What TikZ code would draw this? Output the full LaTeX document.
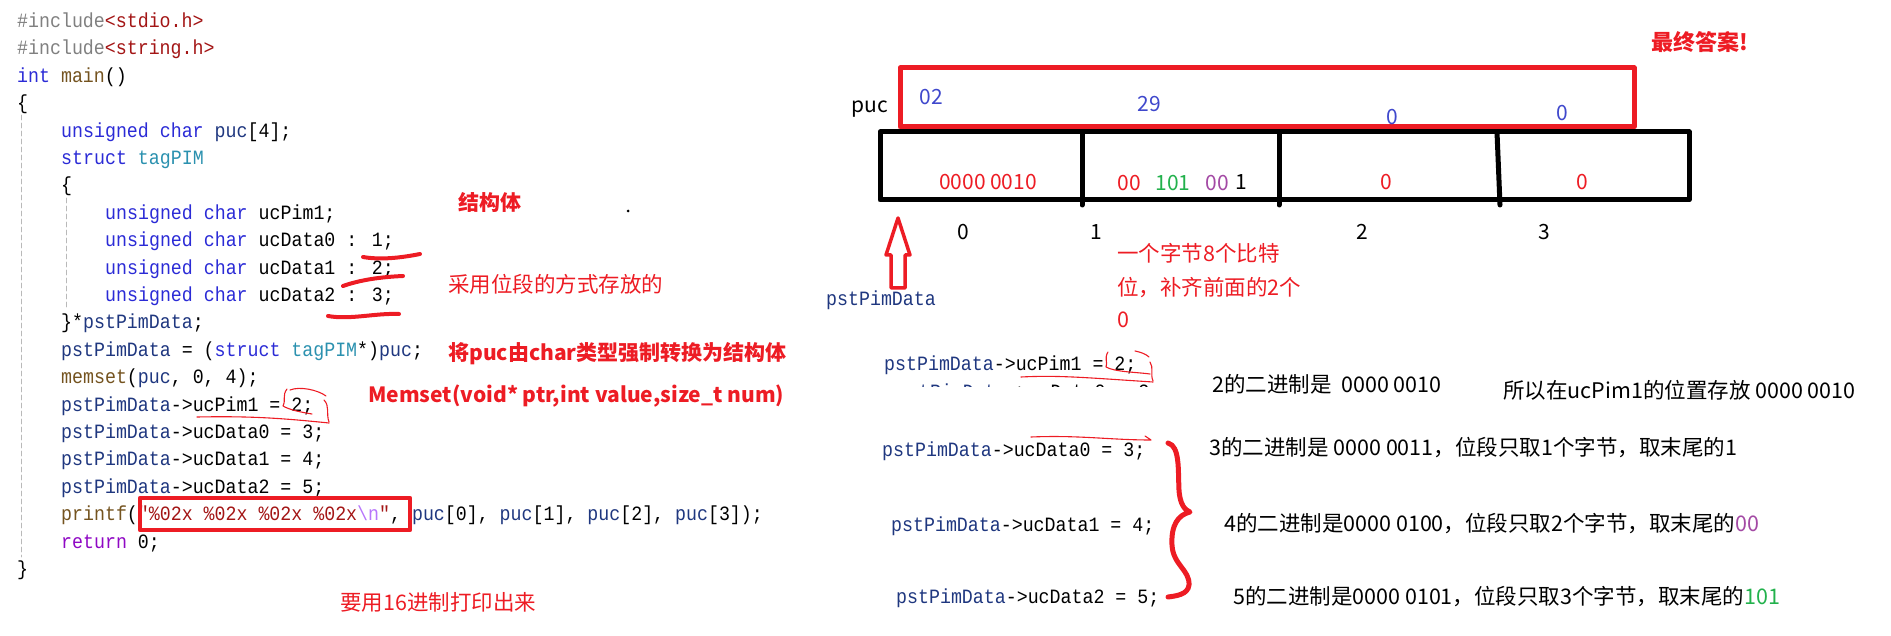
\documentclass[tikz,border=0pt]{standalone}
\usepackage{fontspec}
\usepackage{tikz}
\usetikzlibrary{calc}
\newfontfamily\cjk{Noto Sans CJK SC}
\newfontfamily\codefont{Liberation Mono}[FakeStretch=0.9]
\definecolor{pntred}{HTML}{ED1C24}
\definecolor{pntblue}{HTML}{3F48CC}
\definecolor{pntgreen}{HTML}{22B14C}
\definecolor{pntpurple}{HTML}{A349A4}
\definecolor{vskw}{HTML}{2B2BD6}
\definecolor{vsvar}{HTML}{1F377F}
\definecolor{vstype}{HTML}{2B91AF}
\definecolor{vsfn}{HTML}{74531F}
\definecolor{vsstr}{HTML}{A31515}
\definecolor{vsesc}{HTML}{B776FB}
\definecolor{vsctl}{HTML}{8F08C4}
\definecolor{vspre}{HTML}{808080}
\newcommand{\cKw}[1]{\textcolor{vskw}{#1}}
\newcommand{\cVar}[1]{\textcolor{vsvar}{#1}}
\newcommand{\cType}[1]{\textcolor{vstype}{#1}}
\newcommand{\cFun}[1]{\textcolor{vsfn}{#1}}
\newcommand{\cStr}[1]{\textcolor{vsstr}{#1}}

\begin{document}
\begin{tikzpicture}[x=1pt, y=-1pt, line cap=round, line join=round,
  codeln/.style={anchor=west, inner sep=0pt,
    font=\codefont\fontsize{20.3}{24}\selectfont, text height=14pt, text depth=3pt},
  notetxt/.style={anchor=west, inner sep=0pt,
    font=\cjk\fontsize{21.5}{25}\selectfont, text height=17pt, text depth=2pt},
  rednote/.style={notetxt, text=pntred},
  boldnote/.style={notetxt, text=pntred, font=\cjk\bfseries\fontsize{21}{25}\selectfont},
  numtxt/.style={inner sep=0pt, font=\cjk\fontsize{21}{25}\selectfont,
    text height=15pt, text depth=0pt},
  penline/.style={pntred, line width=4pt},
  scribble/.style={pntred, line width=1.1pt}]
  \path[use as bounding box] (0,0) rectangle (1891,636);

  % editor: indent guides
  \draw[vspre!55, line width=0.8pt, dash pattern=on 5pt off 3pt] (21,115) -- (21,557);
  \draw[vspre!55, line width=0.8pt, dash pattern=on 5pt off 3pt] (66,198) -- (66,308);

  % editor: code, row r at y = 22 + 27.4 r, column c at x = 17 + 11 c
  \node[codeln] (c0) at (17,22) {\textcolor{vspre}{\#include}\cStr{<stdio.h>}};
  \node[codeln] (c1) at (17,49.4) {\textcolor{vspre}{\#include}\cStr{<string.h>}};
  \node[codeln] (c2) at (17,76.8) {\cKw{int} \cFun{main}()};
  \node[codeln] (c3) at (17,104.2) {\{};
  \node[codeln] (c4) at (61,131.6) {\cKw{unsigned char} \cVar{puc}[4];};
  \node[codeln] (c5) at (61,159) {\cKw{struct} \cType{tagPIM}};
  \node[codeln] (c6) at (61,186.4) {\{};
  \node[codeln] (c7) at (105,213.8) {\cKw{unsigned char} ucPim1;};
  \node[codeln] (c8) at (105,241.2) {\cKw{unsigned char} ucData0 : 1;};
  \node[codeln] (c9) at (105,268.6) {\cKw{unsigned char} ucData1 : 2;};
  \node[codeln] (c10) at (105,296) {\cKw{unsigned char} ucData2 : 3;};
  \node[codeln] (c11) at (61,323.4) {\}*\cVar{pstPimData};};
  \node[codeln] (c12) at (61,350.8)
    {\cVar{pstPimData} = (\cKw{struct} \cType{tagPIM}*)\cVar{puc};};
  \node[codeln] (c13) at (61,378.2) {\cFun{memset}(\cVar{puc}, 0, 4);};
  \node[codeln] (c14) at (61,405.6) {\cVar{pstPimData}->ucPim1 = 2;};
  \node[codeln] (c15) at (61,433) {\cVar{pstPimData}->ucData0 = 3;};
  \node[codeln] (c16) at (61,460.4) {\cVar{pstPimData}->ucData1 = 4;};
  \node[codeln] (c17) at (61,487.8) {\cVar{pstPimData}->ucData2 = 5;};
  \node[codeln] (c18) at (61,515.2)
    {\cFun{printf}(\cStr{"\%02x \%02x \%02x \%02x}\textcolor{vsesc}{\textbackslash n}\cStr{"}, \cVar{puc}[0], \cVar{puc}[1], \cVar{puc}[2], \cVar{puc}[3]);};
  \node[codeln] (c19) at (61,542.6) {\textcolor{vsctl}{return} 0;};
  \node[codeln] (c20) at (17,570) {\}};

  % hand marks on the code
  \draw[penline] (363,257) .. controls (380,260) and (400,258) .. (420,254);
  \draw[penline] (343,286) .. controls (360,280) and (380,277) .. (403,276);
  \draw[penline] (328,316) .. controls (350,320) and (375,313) .. (399,314);
  \draw[pntred, line width=4.5pt] (140,498) rectangle (410,530);
  \draw[scribble] (287,389) .. controls (282,395) and (286,402) .. (283,406)
    .. controls (290,410) and (300,412) .. (312,414);
  \draw[scribble] (290,390) .. controls (300,386) and (318,390) .. (326,396);
  \draw[scribble] (324,400) .. controls (330,406) and (326,414) .. (329,422);
  \draw[scribble] (197,417) .. controls (250,416) and (280,418) .. (329,423);

  % notes on the code
  \node[boldnote] (nstruct) at (458,203) {结构体};
  \fill (628,211) circle (1.5pt);
  \node[rednote] (nbits) at (448,285) {采用位段的方式存放的};
  \node[boldnote] (ncast) at (448,353) {将puc由char类型强制转换为结构体};
  \node[boldnote] (nmemset) at (368,395) {Memset(void* ptr,int value,size\_t num)};
  \node[rednote] (nhex) at (340,603) {要用16进制打印出来};

  % memory of puc
  \node[boldnote, font=\cjk\bfseries\fontsize{22}{26}\selectfont] (nfinal) at (1651,43) {最终答案!};
  \draw[pntred, line width=5pt] (900,68) rectangle (1634,127);
  \draw[line width=5pt] (880,132) rectangle (1689,200);
  \draw[line width=5pt] (1082,132) -- (1082,205);
  \draw[line width=5pt] (1279,132) -- (1279,205);
  \draw[line width=5pt] (1497,132) -- (1500,205);
  \node[numtxt] (puclab) at (870,105) {puc};
  \node[numtxt, text=pntblue] (h0) at (931,97) {02};
  \node[numtxt, text=pntblue] (h1) at (1149,104) {29};
  \node[numtxt, text=pntblue] (h2) at (1392,117) {0};
  \node[numtxt, text=pntblue] (h3) at (1562,113) {0};
  \node[numtxt, text=pntred] (b0) at (988,182) {0000 0010};
  \node[numtxt, text=pntred] (b1a) at (1129,183) {00};
  \node[numtxt, text=pntgreen] (b1b) at (1173,183) {101};
  \node[numtxt, text=pntpurple] (b1c) at (1217,183) {00};
  \node[numtxt] (b1d) at (1241,182) {1};
  \node[numtxt, text=pntred] (b2) at (1386,182) {0};
  \node[numtxt, text=pntred] (b3) at (1582,182) {0};
  \foreach \x/\lab in {963/0,1096/1,1362/2,1544/3} {
    \node[numtxt] (idx\lab) at (\x,232) {\lab};
  }
  \draw[pntred, line width=3.5pt] (898,218) -- (910,255) -- (905,255) -- (905,288)
    -- (891,288) -- (891,255) -- (886,255) -- cycle;
  \node[codeln] (ptrlab) at (826,300) {\cVar{pstPimData}};
  \node[rednote] (npad1) at (1117,254) {一个字节8个比特};
  \node[rednote] (npad2) at (1117,288) {位，补齐前面的2个};
  \node[rednote] (npad3) at (1117,320) {0};

  % assignments and their bits
  \node[codeln] (a0) at (884,365) {\cVar{pstPimData}->ucPim1 = 2;};
  \begin{scope}
    \clip (880,376) rectangle (1160,387);
    \node[codeln] (acut) at (897,393) {\cVar{pstPimData}->ucData0 = 3;};
  \end{scope}
  \node[codeln] (a1) at (882,451) {\cVar{pstPimData}->ucData0 = 3;};
  \node[codeln] (a2) at (891,526) {\cVar{pstPimData}->ucData1 = 4;};
  \node[codeln] (a3) at (896,598) {\cVar{pstPimData}->ucData2 = 5;};
  \draw[scribble] (1108,352) .. controls (1104,358) and (1108,363) .. (1106,367)
    .. controls (1115,372) and (1135,372) .. (1150,374);
  \draw[scribble] (1135,351) .. controls (1140,352) and (1146,354) .. (1149,357);
  \draw[scribble] (1150,362) .. controls (1154,368) and (1150,374) .. (1153,381);
  \draw[scribble] (1021,377) .. controls (1060,375) and (1090,378) .. (1153,382);
  \draw[scribble] (1031,437) .. controls (1080,435) and (1110,440) .. (1151,440)
    -- (1145,436);
  \draw[pntred, line width=5pt] (1168,443) .. controls (1180,446) and (1178,470) .. (1179,490)
    .. controls (1180,505) and (1185,510) .. (1190,512)
    .. controls (1178,515) and (1171,525) .. (1172,545)
    .. controls (1173,565) and (1190,570) .. (1189,585)
    .. controls (1188,595) and (1175,596) .. (1168,597);
  \node[notetxt] (t0) at (1212,385) {2的二进制是\ \ 0000 0010};
  \node[notetxt] (t0b) at (1503,391) {所以在ucPim1的位置存放 0000 0010};
  \node[notetxt] (t1) at (1209,448) {3的二进制是 0000 0011，位段只取1个字节，取末尾的1};
  \node[notetxt] (t2) at (1224,524)
    {4的二进制是0000 0100，位段只取2个字节，取末尾的\textcolor{pntpurple}{00}};
  \node[notetxt] (t3) at (1233,597)
    {5的二进制是0000 0101，位段只取3个字节，取末尾的\textcolor{pntgreen}{101}};
\end{tikzpicture}
\end{document}
